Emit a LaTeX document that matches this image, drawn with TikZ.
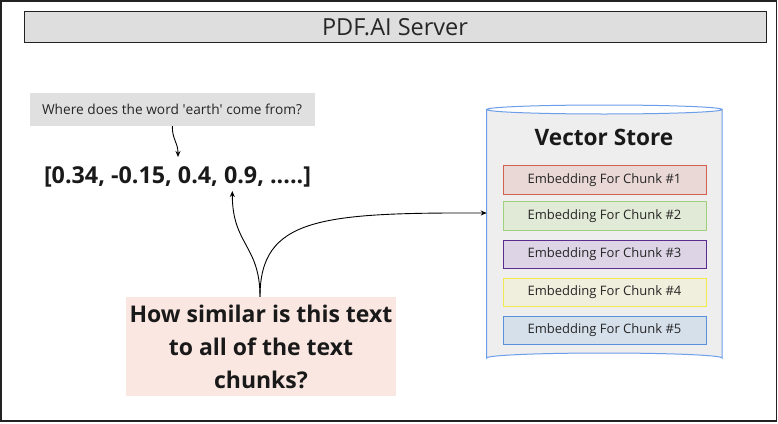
\documentclass[tikz,border=0pt]{standalone}
\usepackage{fontspec}
\setmainfont{Open Sans}
\usetikzlibrary{arrows.meta}
\definecolor{framec}{HTML}{222222}
\definecolor{titlefill}{HTML}{DEDEDE}
\definecolor{qfill}{HTML}{E0E0E0}
\definecolor{pinkfill}{HTML}{FAE7E2}
\definecolor{storefill}{HTML}{EEEEEE}
\definecolor{storeline}{HTML}{6D9EEB}
\definecolor{redline}{HTML}{D0604F}\definecolor{redfill}{HTML}{EAD8D6}
\definecolor{greenline}{HTML}{9FD07A}\definecolor{greenfill}{HTML}{E1EAD7}
\definecolor{purpleline}{HTML}{5B2C8F}\definecolor{purplefill}{HTML}{DDD4E6}
\definecolor{yellowline}{HTML}{F2E94E}\definecolor{yellowfill}{HTML}{F0EEDC}
\definecolor{blueline}{HTML}{5A90DA}\definecolor{bluefill}{HTML}{D6E0EB}
\begin{document}
\begin{tikzpicture}[x=1pt,y=-1pt,
  conn/.style={draw=black,line width=0.9pt,-{Stealth[length=6pt,width=5pt]}},
  chunkbox/.style={draw=#1line,fill=#1fill,line width=0.9pt,minimum width=203pt,minimum height=28.5pt,inner sep=0pt,
    font=\fontsize{13}{15}\selectfont,text=black!85}]
\useasboundingbox (0,0) rectangle (778,423);
% outer frame
\draw[framec,line width=1.6pt,fill=white] (0.8,0.8) rectangle (776.4,420.8);
% title
\node[draw=framec,fill=titlefill,line width=0.9pt,minimum width=742pt,minimum height=30.5pt,inner sep=0pt,
  font=\fontsize{23.5}{26}\selectfont,text=black!85] (title) at (395,27) {PDF.AI Server};
% question
\node[fill=qfill,minimum width=285pt,minimum height=33pt,inner sep=0pt,font=\fontsize{13.7}{16}\selectfont,text=black!85]
  (q) at (172,109.5) {Where does the word \textquotesingle earth\textquotesingle\ come from?};
% vector
\node[font=\bfseries\fontsize{23.3}{26}\selectfont,inner sep=0pt,text=black!90] (vec) at (177.5,177) {[0.34, -0.15, 0.4, 0.9, .....]};
\coordinate (vectop) at (178,157);
\coordinate (vecbot) at (232.3,191);
% pink
\node[fill=pinkfill,minimum width=270pt,minimum height=99pt,inner sep=0pt,align=center,
  font=\bfseries\fontsize{23}{33}\selectfont,text=black!90] (pink) at (261,346.5)
  {How similar is this text\\to all of the text\\chunks?};
% cylinder
\fill[storefill] (486.7,109.5) -- (486.7,358) arc[start angle=180,end angle=360,x radius=117.65,y radius=5] -- (722,109.5) arc[start angle=0,end angle=180,x radius=117.65,y radius=4.5] -- cycle;
\draw[storeline,line width=1pt] (486.7,109.5) -- (486.7,358) arc[start angle=180,end angle=360,x radius=117.65,y radius=5] -- (722,109.5);
\draw[storeline,line width=1pt] (604.35,109.5) ellipse[x radius=117.65,y radius=4.5];
\node[font=\bfseries\fontsize{22.6}{25}\selectfont,text=black!90] (vs) at (604,137.5) {Vector Store};
\coordinate (storein) at (486.7,213);
\node[chunkbox=red] (c1) at (604.5,179.7) {Embedding For Chunk \#1};
\node[chunkbox=green] (c2) at (604.5,216) {Embedding For Chunk \#2};
\node[chunkbox=purple] (c3) at (604.5,254.2) {Embedding For Chunk \#3};
\node[chunkbox=yellow] (c4) at (604.5,292.3) {Embedding For Chunk \#4};
\node[chunkbox=blue] (c5) at (604.5,330.6) {Embedding For Chunk \#5};
% connectors
\draw[conn] (q.south -| 172.3,0) .. controls (172.3,140) and (178,142) .. (vectop);
\draw[conn] (pink.north -| 260,0) .. controls (260,245) and (232.3,245) .. (vecbot);
\draw[conn] (pink.north -| 260,0) .. controls (260,218) and (320,212.5) .. (storein);
\end{tikzpicture}
\end{document}
